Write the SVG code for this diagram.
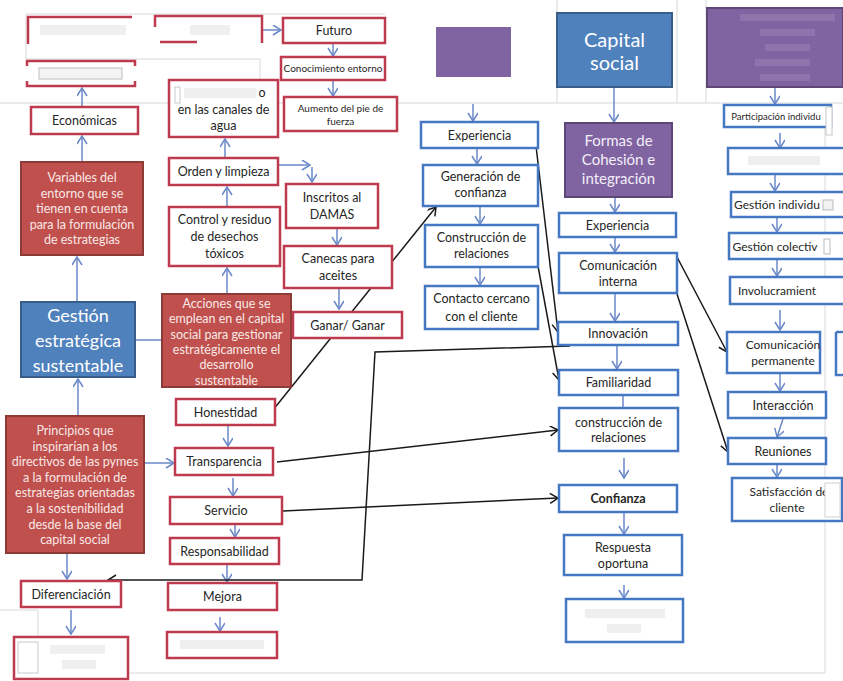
<svg xmlns="http://www.w3.org/2000/svg" width="843" height="681" viewBox="0 0 843 681">
  <style>
    .t{font-family:Lato,"Open Sans","Liberation Sans",sans-serif;font-size:12.5px;fill:#262626;text-anchor:middle}
    .s{font-size:10px}
    .n{font-size:12px}
    .w{fill:#f8e8e6}
    .wb{fill:#ffffff}
    .rb{fill:#fff;stroke:#be3a4e;stroke-width:2.5}
    .bb{fill:#fff;stroke:#4677c1;stroke-width:2.5}
    .rf{fill:#c0504d;stroke:#8e3a37;stroke-width:2}
    .bf{fill:#4f81bd;stroke:#385d8a;stroke-width:2}
    .pf{fill:#8064a2;stroke:#5c4776;stroke-width:2}
    .pale{fill:#efefef}
    .g{stroke:#d8d8d8;stroke-width:1;fill:none}
    .a{stroke:#6b89c9;stroke-width:1.5;fill:none;marker-end:url(#ab)}
    .l{stroke:#6b89c9;stroke-width:1.5;fill:none}
    .k{stroke:#1a1a1a;stroke-width:1.5;fill:none;marker-end:url(#ak)}
  </style>
  <defs>
    <marker id="ab" markerUnits="userSpaceOnUse" markerWidth="12" markerHeight="12" refX="9" refY="5" orient="auto">
      <path d="M1,0 L9,5 L1,10" fill="none" stroke="#6b89c9" stroke-width="1.5"/>
    </marker>
    <marker id="ak" markerUnits="userSpaceOnUse" markerWidth="12" markerHeight="12" refX="9" refY="5" orient="auto">
      <path d="M1,0 L9,5 L1,10" fill="none" stroke="#1a1a1a" stroke-width="1.5"/>
    </marker>
  </defs>
  <rect width="843" height="681" fill="#fff"/>

  <!-- faint panel edges -->
  <g id="panels">
    <path class="g" d="M0,103 H843 M557,0 V103 M677,0 V103 M706,0 V103 M825,103 V673 M128,673 H825 M26,14 H385 M26,14 V59 H260 V80 M0,610 H38 V655"/>
  </g>

  <!-- connectors -->
  <g id="connectors">
    <path class="a" d="M82,162 V136"/>
    <path class="a" d="M82,107 V88"/>
    <path class="a" d="M77,302 V257"/>
    <path class="a" d="M78,416 V379"/>
    <path class="l" d="M135,340 H162"/>
    <path class="a" d="M140,463 H174"/>
    <path class="a" d="M67,553 V579"/>
    <path class="a" d="M71,610 V634"/>
    <path class="a" d="M227,294 V268"/>
    <path class="a" d="M227,207 V187"/>
    <path class="a" d="M225,158 V139"/>
    <path class="a" d="M278,165 H310"/>
    <path class="a" d="M312,167 V182"/>
    <path class="a" d="M337,228 V245"/>
    <path class="a" d="M339,288 V309"/>
    <path class="a" d="M228,425 V446"/>
    <path class="a" d="M233,478 V496"/>
    <path class="a" d="M235,524 V537"/>
    <path class="a" d="M227,564 V582"/>
    <path class="a" d="M220,617 V631"/>
    <path class="a" d="M262,30 H281"/>
    <path class="a" d="M333,43 V56"/>
    <path class="a" d="M333,80 V96"/>
    <path class="a" d="M473,104 V121"/>
    <path class="a" d="M477,148 V164"/>
    <path class="a" d="M480,206 V224"/>
    <path class="a" d="M480,267 V285"/>
    <path class="a" d="M614,87 V122"/>
    <path class="a" d="M615,197 V212"/>
    <path class="a" d="M615,237 V252"/>
    <path class="a" d="M615,293 V321"/>
    <path class="a" d="M617,345 V369"/>
    <path class="l" d="M623,395 V408"/>
    <path class="a" d="M624,458 V478"/>
    <path class="a" d="M624,512 V534"/>
    <path class="a" d="M624,585 V598"/>
    <path class="a" d="M775,87 V104"/>
    <path class="a" d="M780,133 V148"/>
    <path class="a" d="M775,174 V191"/>
    <path class="a" d="M777,217 V232"/>
    <path class="a" d="M777,259 V276"/>
    <path class="a" d="M780,310 V330"/>
    <path class="a" d="M780,373 V391"/>
    <path class="a" d="M783,419 L777,437"/>
    <path class="a" d="M777,464 V477"/>

    <path class="k" d="M273,410 L436,207"/>
    <path class="k" d="M536,146 L558,332"/>
    <path class="k" d="M538,266 L559,380"/>
    <path class="k" d="M677,257 L727,352"/>
    <path class="k" d="M677,294 L728,452"/>
    <path class="k" d="M570,346 L375,352 L362,580 L108,580"/>
    <path class="k" d="M277,462 L558,430"/>
    <path class="k" d="M283,511 L558,498"/>
  </g>

  <!-- left column -->
  <g id="top-left-a">
    <path d="M28,44 V17 H132" fill="none" stroke="#be3a4e" stroke-width="2.5"/>
    <rect class="pale" x="40" y="25" width="86" height="10"/>
  </g>
  <g id="top-left-b">
    <path d="M155,27 V16 H262 V43 M160,42 H197" fill="none" stroke="#be3a4e" stroke-width="2.5"/>
    <rect class="pale" x="190" y="25" width="40" height="10"/>
  </g>
  <g id="top-left-c">
    <path d="M27,66 V61 H135 V66 M27,81 V86 H135 V81" fill="none" stroke="#be3a4e" stroke-width="2.5"/>
    <rect x="39" y="68" width="83" height="11" fill="#f4f4f4" stroke="#bdbdbd" stroke-width="1"/>
  </g>
  <g id="economicas">
    <rect class="rb" x="31" y="107" width="107" height="27"/>
    <text class="t" x="84.5" y="125" font-size="13">Económicas</text>
  </g>
  <g id="variables">
    <rect class="rf" x="21" y="162" width="122" height="93"/>
    <text class="t w" x="82"><tspan x="82" y="182">Variables del</tspan><tspan x="82" y="197.5">entorno que se</tspan><tspan x="82" y="213">tienen en cuenta</tspan><tspan x="82" y="228.5">para la formulación</tspan><tspan x="82" y="244">de estrategias</tspan></text>
  </g>
  <g id="gestion">
    <rect class="bf" x="21" y="302" width="114" height="75"/>
    <text class="t wb" style="font-size:18px"><tspan x="78" y="322">Gestión</tspan><tspan x="78" y="347">estratégica</tspan><tspan x="78" y="372">sustentable</tspan></text>
  </g>
  <g id="principios">
    <rect class="rf" x="6" y="416" width="138" height="137"/>
    <text class="t w"><tspan x="75" y="435">Principios que</tspan><tspan x="75" y="450.6">inspirarían a los</tspan><tspan x="75" y="466.2">directivos de las pymes</tspan><tspan x="75" y="481.8">a la formulación de</tspan><tspan x="75" y="497.4">estrategias orientadas</tspan><tspan x="75" y="513">a la sostenibilidad</tspan><tspan x="75" y="528.6">desde la base del</tspan><tspan x="75" y="544.2">capital social</tspan></text>
  </g>
  <g id="diferenciacion">
    <rect class="rb" x="21" y="581" width="100" height="26"/>
    <text class="t" x="71" y="598.5">Diferenciación</text>
  </g>
  <g id="bottom-left">
    <rect class="rb" x="14" y="637" width="114" height="42"/>
    <rect x="18" y="642" width="20" height="31" fill="#fff" stroke="#c8c8c8" stroke-width="1"/>
    <rect class="pale" x="50" y="645" width="55" height="9"/>
    <rect class="pale" x="62" y="660" width="34" height="9"/>
  </g>

  <!-- middle column -->
  <g id="canales">
    <rect class="rb" x="169" y="80" width="109" height="57"/>
    <rect x="175" y="87" width="5" height="16" fill="#fff" stroke="#c8c8c8" stroke-width="1"/>
    <rect class="pale" x="184" y="88" width="72" height="10"/>
    <text class="t" x="262" y="97">o</text>
    <text class="t" x="223.5" y="114">en las canales de</text>
    <text class="t" x="223.5" y="129.5">agua</text>
  </g>
  <g id="orden">
    <rect class="rb" x="169" y="158" width="109" height="27"/>
    <text class="t" x="223.5" y="176">Orden y limpieza</text>
  </g>
  <g id="control">
    <rect class="rb" x="169" y="207" width="111" height="59"/>
    <text class="t"><tspan x="224.5" y="224">Control y residuo</tspan><tspan x="224.5" y="241">de desechos</tspan><tspan x="224.5" y="257.5">tóxicos</tspan></text>
  </g>
  <g id="acciones">
    <rect class="rf" x="162" y="294" width="129" height="93"/>
    <text class="t w"><tspan x="226.5" y="308">Acciones que se</tspan><tspan x="226.5" y="323.3">emplean en el capital</tspan><tspan x="226.5" y="338.6">social para gestionar</tspan><tspan x="226.5" y="353.9">estratégicamente el</tspan><tspan x="226.5" y="369.2">desarrollo</tspan><tspan x="226.5" y="384.5">sustentable</tspan></text>
  </g>
  <g id="honestidad">
    <rect class="rb" x="176" y="399" width="99" height="26"/>
    <text class="t" x="225.5" y="416.5">Honestidad</text>
  </g>
  <g id="transparencia">
    <rect class="rb" x="175" y="448" width="98" height="27"/>
    <text class="t" x="224" y="466">Transparencia</text>
  </g>
  <g id="servicio">
    <rect class="rb" x="170" y="497" width="112" height="27"/>
    <text class="t" x="226" y="515">Servicio</text>
  </g>
  <g id="responsabilidad">
    <rect class="rb" x="170" y="538" width="109" height="26"/>
    <text class="t" x="224.5" y="555.5">Responsabilidad</text>
  </g>
  <g id="mejora">
    <rect class="rb" x="168" y="583" width="109" height="27"/>
    <text class="t" x="222.5" y="601">Mejora</text>
  </g>
  <g id="bottom-middle">
    <rect class="rb" x="167" y="632" width="110" height="26"/>
    <rect class="pale" x="180" y="640" width="84" height="9"/>
  </g>

  <!-- third column -->
  <g id="futuro">
    <rect class="rb" x="283" y="18" width="102" height="25"/>
    <text class="t" x="334" y="35">Futuro</text>
  </g>
  <g id="conocimiento">
    <rect class="rb" x="281" y="57" width="104" height="23"/>
    <text class="t s" x="333" y="72">Conocimiento entorno</text>
  </g>
  <g id="aumento">
    <rect class="rb" x="284" y="97" width="113" height="34"/>
    <text class="t s"><tspan x="340.5" y="112">Aumento del pie de</tspan><tspan x="340.5" y="125">fuerza</tspan></text>
  </g>
  <g id="inscritos">
    <rect class="rb" x="286" y="184" width="92" height="44"/>
    <text class="t"><tspan x="332" y="202">Inscritos al</tspan><tspan x="332" y="219">DAMAS</tspan></text>
  </g>
  <g id="canecas">
    <rect class="rb" x="284" y="246" width="108" height="42"/>
    <text class="t"><tspan x="338" y="263">Canecas para</tspan><tspan x="338" y="280">aceites</tspan></text>
  </g>
  <g id="ganar">
    <rect class="rb" x="293" y="312" width="109" height="26"/>
    <text class="t" x="347.5" y="329.5">Ganar/ Ganar</text>
  </g>
  <g id="purple-small">
    <rect x="436" y="27" width="75" height="50" fill="#8064a2"/>
  </g>

  <!-- fourth column -->
  <g id="experiencia-a">
    <rect class="bb" x="421" y="122" width="117" height="26"/>
    <text class="t" x="479.5" y="139.5">Experiencia</text>
  </g>
  <g id="generacion">
    <rect class="bb" x="423" y="165" width="115" height="41"/>
    <text class="t"><tspan x="480.5" y="181">Generación de</tspan><tspan x="480.5" y="197">confianza</tspan></text>
  </g>
  <g id="construccion-a">
    <rect class="bb" x="425" y="225" width="113" height="42"/>
    <text class="t"><tspan x="481.5" y="241.5">Construcción de</tspan><tspan x="481.5" y="258">relaciones</tspan></text>
  </g>
  <g id="contacto">
    <rect class="bb" x="425" y="286" width="113" height="43"/>
    <text class="t"><tspan x="481.5" y="303">Contacto cercano</tspan><tspan x="481.5" y="320.5">con el cliente</tspan></text>
  </g>

  <!-- fifth column -->
  <g id="capital">
    <rect class="bf" x="557" y="13" width="115" height="74"/>
    <text class="t wb" style="font-size:20px"><tspan x="614.5" y="47">Capital</tspan><tspan x="614.5" y="70">social</tspan></text>
  </g>
  <g id="formas">
    <rect class="pf" x="565" y="123" width="107" height="74"/>
    <text class="t" style="font-size:15px;fill:#f3eef8"><tspan x="618.5" y="146">Formas de</tspan><tspan x="618.5" y="165">Cohesión e</tspan><tspan x="618.5" y="184">integración</tspan></text>
  </g>
  <g id="experiencia-b">
    <rect class="bb" x="559" y="213" width="117" height="24"/>
    <text class="t" x="617.5" y="229.5">Experiencia</text>
  </g>
  <g id="comunicacion-interna">
    <rect class="bb" x="559" y="253" width="118" height="40"/>
    <text class="t"><tspan x="618" y="270">Comunicación</tspan><tspan x="618" y="286">interna</tspan></text>
  </g>
  <g id="innovacion">
    <rect class="bb" x="558" y="322" width="120" height="23"/>
    <text class="t" x="618" y="338">Innovación</text>
  </g>
  <g id="familiaridad">
    <rect class="bb" x="559" y="370" width="119" height="25"/>
    <text class="t" x="618.5" y="387">Familiaridad</text>
  </g>
  <g id="construccion-b">
    <rect class="bb" x="559" y="408" width="119" height="43"/>
    <text class="t"><tspan x="618.5" y="427">construcción de</tspan><tspan x="618.5" y="442">relaciones</tspan></text>
  </g>
  <g id="confianza">
    <rect class="bb" x="559" y="485" width="118" height="27"/>
    <text class="t" x="618" y="503" font-weight="bold">Confianza</text>
  </g>
  <g id="respuesta">
    <rect class="bb" x="564" y="535" width="118" height="40"/>
    <text class="t"><tspan x="623" y="552">Respuesta</tspan><tspan x="623" y="567.5">oportuna</tspan></text>
  </g>
  <g id="bottom-right">
    <rect class="bb" x="566" y="599" width="117" height="43"/>
    <rect class="pale" x="585" y="609" width="80" height="9"/>
    <rect class="pale" x="607" y="624" width="34" height="9"/>
  </g>

  <!-- sixth column -->
  <g id="purple-large">
    <rect class="pf" x="707" y="8" width="136" height="79"/>
    <g fill="#8d74ad">
      <rect x="740" y="14" width="95" height="7"/>
      <rect x="760" y="29" width="55" height="7"/>
      <rect x="765" y="44" width="45" height="7"/>
      <rect x="755" y="59" width="55" height="7"/>
      <rect x="760" y="74" width="50" height="7"/>
    </g>
  </g>
  <g id="participacion">
    <rect class="bb" x="724" y="105" width="107" height="22"/>
    <text class="t" x="776" y="120" style="font-size:9.5px">Participación individu</text>
    <rect x="826" y="107" width="6" height="28" fill="#fff" stroke="#c8c8c8" stroke-width="1"/>
  </g>
  <g id="blurred-right">
    <rect class="bb" x="728" y="148" width="118" height="26"/>
    <rect class="pale" x="748" y="156" width="72" height="9"/>
  </g>
  <g id="gestion-individual">
    <rect class="bb" x="731" y="192" width="115" height="25"/>
    <text class="t n" x="777" y="209">Gestión individu</text>
    <rect x="823" y="200" width="10" height="10" fill="#f2f2f2" stroke="#bbb" stroke-width="1"/>
  </g>
  <g id="gestion-colectiva">
    <rect class="bb" x="729" y="233" width="117" height="26"/>
    <text class="t n" x="775" y="250.5">Gestión colectiv</text>
    <rect x="824" y="239" width="6" height="15" fill="#fff" stroke="#bbb" stroke-width="1"/>
  </g>
  <g id="involucramiento">
    <rect class="bb" x="730" y="277" width="116" height="27"/>
    <text class="t n" x="777" y="295">Involucramient</text>
  </g>
  <g id="comunicacion-permanente">
    <rect class="bb" x="727" y="332" width="93" height="41"/>
    <text class="t n"><tspan x="783" y="349">Comunicación</tspan><tspan x="783" y="365">permanente</tspan></text>
    <path d="M836,332 H843 M836,332 V375 H843" fill="none" stroke="#4677c1" stroke-width="2.5"/>
  </g>
  <g id="interaccion">
    <rect class="bb" x="728" y="392" width="98" height="26"/>
    <text class="t" x="783" y="409.5">Interacción</text>
  </g>
  <g id="reuniones">
    <rect class="bb" x="728" y="438" width="98" height="26"/>
    <text class="t" x="783" y="455.5">Reuniones</text>
  </g>
  <g id="satisfaccion">
    <rect class="bb" x="732" y="478" width="110" height="43"/>
    <text class="t n"><tspan x="789" y="496">Satisfacción de</tspan><tspan x="787" y="512">cliente</tspan></text>
    <rect x="825" y="483" width="15" height="34" fill="#fff" stroke="#cfcfcf" stroke-width="1"/>
  </g>
</svg>
